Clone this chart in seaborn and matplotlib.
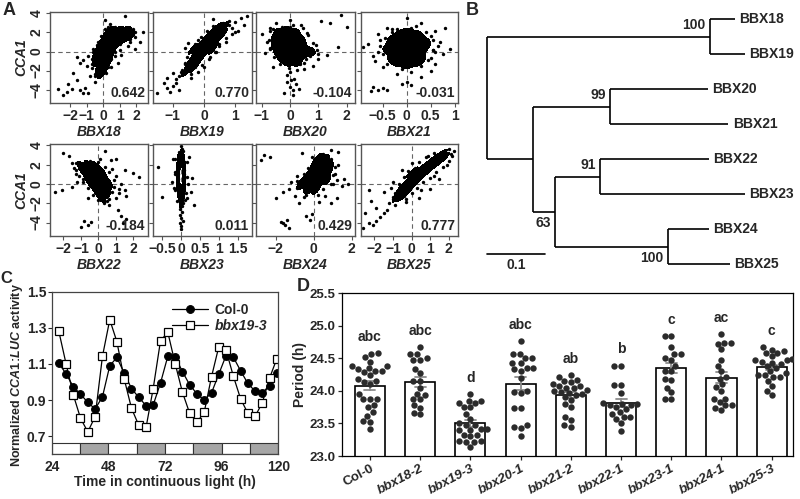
import matplotlib
matplotlib.use("Agg")
import numpy as np
import pandas as pd
import matplotlib.pyplot as plt
from matplotlib.colors import ListedColormap
import seaborn as sns

# ---------------- Panel A: CCA1 vs BBX expression ----------------
genes = ["BBX18", "BBX19", "BBX20", "BBX21", "BBX22", "BBX23", "BBX24", "BBX25"]
pearson_r = ["0.642", "0.770", "-0.104", "-0.031", "-0.184", "0.011", "0.429", "0.777"]

# dense part of each cloud (drawn as its highest-density region) and the sparse points around it
bbx18_dense_x = [-0.1, -0.2, 0.1, -0.4, 0.0, 0.3, -0.4, 0.0, 0.4, -0.2, 0.2, 0.6, 0.0, 0.4, 0.8, 0.2, 0.6, 1.0,
                 1.4, 1.7, 0.4, 0.9, 1.3, 1.2]
bbx18_dense_y = [-2.3, -1.7, -1.6, -1.0, -1.0, -0.9, -0.3, -0.3, -0.2, 0.4, 0.4, 0.5, 1.0, 1.1, 1.1, 1.7, 1.7, 1.7,
                 1.8, 1.7, 2.1, 2.1, 2.0, 1.4]
bbx18_x = [-2.7, -2.4, -2.1, -1.9, -1.6, -1.4, -1.1, -0.9, -2.2, -1.2, -1.6, -1.2, -0.9, -1.4, -0.8, -1.0, -0.7,
           -1.8, 1.3, 0.4, 0.7, 1.9, 1.5, 2.2, 1.1, -0.5, 1.8, 0.9, 1.0, 2.4, 0.1, -0.3, 1.6, 0.7, -0.6, -0.7,
           0.5, 1.9, -0.5, 0.3,
           -0.7, -0.6, -0.4, -0.1, 0.1, 0.7, 1.2, 1.9, 1.6, 1.0, 0.7, 0.5, 0.3, 0.2, -0.4, -0.5]
bbx18_y = [-3.9, -4.6, -3.4, -3.9, -3.0, -4.0, -3.8, -4.3, -4.2, -4.4, -0.6, -0.9, -0.5, -1.2, -2.6, -1.5, -0.8,
           -2.2, 3.7, 2.9, 2.6, 0.3, 0.6, 1.0, -0.4, -3.2, 2.4, -1.2, 0.2, 2.0, 3.3, 1.0, 1.0, -0.5, 0.3, -1.7,
           -1.6, 2.1, -2.4, 2.6,
           -1.3, 0.0, 0.7, 1.6, 2.4, 2.4, 2.4, 1.5, 1.3, 0.8, 0.0, -0.8, -1.6, -2.2, -2.0, -2.6]

bbx19_dense_x = [-0.55, -0.45, -0.3, -0.4, -0.2, -0.3, -0.1, -0.2, 0.05, -0.1, 0.15, 0.0, 0.25, 0.1, 0.35, 0.25,
                 0.5, 0.45, 0.65, -0.35, 0.3, 0.6]
bbx19_dense_y = [-2.0, -1.5, -1.6, -1.0, -1.0, -0.5, -0.5, 0.0, 0.0, 0.5, 0.5, 1.0, 1.0, 1.5, 1.5, 2.0,
                 2.0, 2.5, 2.6, 0.3, 0.3, 1.8]
bbx19_x = [-1.5, -1.2, -1.1, -1.0, -0.9, -0.8, -1.3, -0.8, -1.0, -0.7, 0.8, 1.0, 1.2, 1.3, 0.9, 1.4, -0.4,
           0.4, 0.7, -0.6, 1.1, -1.2, 0.3, -0.7, -0.6, 0.2, 0.9, -0.5, 0.6, 0.0, -0.9, 1.0, 0.5, -0.2,
           -0.75, -0.6, -0.55, -0.4, -0.3, -0.1, 0.1, 0.3, 0.8, 0.7, 0.5, 0.35, 0.15, -0.05, -0.2, -0.4]
bbx19_y = [-4.3, -3.8, -4.2, -3.6, -3.3, -4.0, -3.3, -2.6, -2.2, -1.9, 3.2, 3.1, 3.5, 2.8, 2.5, 3.7, -2.8,
           0.0, 1.0, 0.4, 2.2, -2.8, 3.4, -2.4, -1.2, -0.6, 1.8, 0.9, 3.0, -1.6, -2.9, 2.0, 0.6, 1.2,
           -2.1, -1.3, -0.6, 0.0, 0.8, 1.5, 2.2, 2.7, 2.8, 1.4, 0.8, -0.1, -0.8, -1.4, -2.1, -2.4]

bbx20_dense_x = [-0.4, -0.1, 0.2, -0.5, -0.2, 0.1, 0.4, -0.5, -0.2, 0.1, 0.4, -0.4, -0.1, 0.2, 0.5, 0.75,
                 -0.3, 0.0, 0.3, -0.1, 0.2]
bbx20_dense_y = [2.0, 2.2, 2.0, 1.3, 1.4, 1.3, 1.2, 0.6, 0.6, 0.6, 0.5, 0.0, 0.0, 0.0, -0.1, 0.0,
                 -0.6, -0.6, -0.6, -1.1, -1.1]
bbx20_x = [-0.1, 0.0, 0.1, 0.2, -0.2, 0.1, 0.3, -0.1, 0.0, 0.15, 0.05, -0.05, 0.25, -0.9, -1.0, -0.7, -0.5,
           0.0, 0.4, 1.1, 1.4, 1.8, 2.0, 1.7, 0.9, 1.0, 0.8, 0.5, -0.6, 1.3, -0.8, -0.7, 0.6, 0.7, -0.6, 0.1, 0.5,
           -0.7, -0.75, -0.7, -0.55, -0.35, 0.35, 0.55, 0.95, 0.8, 0.65, 0.45, 0.0, -0.3, 1.0]
bbx20_y = [-3.2, -3.7, -4.0, -3.4, -4.3, -4.6, -3.9, -2.5, -2.1, -2.9, -3.0, -1.7, -1.9, -0.2, 1.8, 2.5, 3.0,
           3.3, 2.8, 3.2, 3.0, 3.8, 2.6, 0.5, 0.7, -0.8, -1.5, -1.8, -1.6, -0.4, 1.0, 0.4, 1.9, -0.5, 2.4, 2.8, -1.2,
           2.2, 1.2, 0.3, -0.6, -1.3, -1.3, -0.8, 0.2, 0.9, 1.7, 2.5, 2.6, 2.6, -0.3]

bbx21_dense_x = [-0.4, -0.3, -0.3, 0.0, 0.0, 0.0, 0.0, 0.0, 0.3, 0.3, 0.3, 0.4, -0.15, 0.2, -0.2, 0.2,
                 -0.15, 0.15, -0.15, 0.15]
bbx21_dense_y = [0.3, 1.2, -0.6, 2.0, 1.2, 0.3, -0.6, -1.4, 1.2, 0.3, -0.6, 0.8, 1.7, 1.8, -1.1, -1.1,
                 0.7, 0.7, -0.2, -0.2]
bbx21_x = [-0.8, -0.7, -0.6, -0.4, 0.0, 0.3, 0.6, 0.7, 0.75, 0.6, -0.5, -0.7, -0.6, -0.5, -0.75, -0.4, 0.0,
           0.1, -0.1, 0.3, -0.2, 0.5, 0.9, -0.9, 0.8, -0.6, 0.55, -0.55, 0.5, 0.2, -0.3, 0.45, -0.65, 0.65, 0.1,
           -0.55, -0.5, -0.45, -0.3, 0.1, 0.4, 0.55, 0.55, 0.5, 0.3, -0.1, -0.4, -0.2, 0.6]
bbx21_y = [0.8, -0.5, 1.8, 2.5, 3.5, 3.0, 2.2, 1.0, -0.3, -1.3, -1.6, -3.7, -4.0, -3.8, -4.1, -4.0, -3.2,
           -3.5, -3.4, -2.7, -2.4, -2.0, 0.3, 0.5, 2.5, 0.0, 0.2, 1.2, 1.6, 2.7, 2.4, -0.9, -1.0, 0.6, -2.1,
           0.6, -0.3, 1.4, 2.1, 2.5, 2.0, 1.2, 0.2, -0.7, -1.5, -1.8, -1.3, 2.4, -0.1]

bbx22_dense_x = [-1.0, -0.6, -0.2, -0.9, -0.5, -0.1, 0.2, -0.6, -0.2, 0.2, -0.5, -0.1, 0.3, 0.6, -0.2, 0.2,
                 0.5, 0.0, 0.4, 0.2]
bbx22_dense_y = [1.9, 2.0, 1.9, 1.4, 1.4, 1.4, 1.3, 0.8, 0.8, 0.8, 0.2, 0.2, 0.2, 0.1, -0.4, -0.4,
                 -0.5, -1.0, -1.0, -1.5]
bbx22_x = [-2.0, -1.7, -2.5, -2.1, -1.5, -1.2, -1.5, 0.4, 0.7, 1.0, 1.5, 2.0, 2.3, 1.0, 1.2, 1.6, 1.0, 0.3,
           0.6, -0.6, -0.8, -0.4, -0.6, -1.0, 1.3, 1.6, 1.4, 1.1, -1.3, 0.9, 0.8, -0.9, 1.3, -1.4, 0.6, 0.1,
           -1.3, -1.3, -1.1, -0.9, -0.6, -0.3, 0.0, 0.5, 0.8, 0.9, 0.6, 0.4, 0.0, -0.5, 1.2, 1.5]
bbx22_y = [3.2, 2.9, -0.8, -0.6, -0.3, 0.2, 2.2, 3.4, 2.5, 2.6, 1.4, 1.1, 0.7, 0.8, -0.5, -1.2, -1.5, -2.0,
           -2.2, -1.5, -3.8, -3.9, -4.3, -4.5, -3.3, -3.6, -4.0, -2.7, 1.0, -0.3, 1.6, 0.5, 0.0, 1.7, -1.6, 2.6,
           2.2, 1.5, 0.8, 0.2, -0.4, -1.1, -1.7, -1.8, -0.8, 0.4, 1.2, 1.8, 2.3, 2.4, -0.9, -0.6]

bbx23_dense_x = [0.0, -0.06, 0.06, -0.06, 0.06, -0.08, 0.08, -0.08, 0.08, -0.08, 0.08, -0.08, 0.08, -0.06,
                 0.06, -0.05, 0.05, 0.0, 0.0]
bbx23_dense_y = [3.0, 2.5, 2.5, 2.0, 2.0, 1.5, 1.5, 1.0, 1.0, 0.5, 0.5, 0.0, 0.0, -0.5,
                 -0.5, -1.0, -1.0, -1.5, -2.0]
bbx23_x = [0.02, -0.02, 0.03, -0.03, 0.0, 0.04, -0.04, 0.01, 0.0, 0.02, -0.6, -0.5, 0.35, 0.3, 0.25, -0.25,
           0.2, -0.2, 0.15, -0.15, 0.18, -0.18, 0.0, 0.05,
           -0.15, 0.15, -0.15, 0.16, -0.15, 0.14, -0.1, 0.1, 0.05, -0.05]
bbx23_y = [-2.3, -2.6, -2.9, -3.2, -3.5, -3.8, -4.1, -4.4, -4.7, 3.6, 1.8, -1.3, -2.2, 0.6, -0.8, 0.2,
           2.8, 2.6, -1.5, 1.2, 0.0, -0.4, 3.9, -2.0,
           2.6, 2.3, 1.0, 0.7, -0.6, -0.9, -1.8, -1.7, 3.4, 3.3]

bbx24_dense_x = [0.3, 0.6, 0.1, 0.5, 0.8, 0.0, 0.4, 0.8, -0.2, 0.2, 0.6, -0.5, -0.1, 0.3, 0.7, -0.7, -0.3,
                 0.1, -0.3, 0.1]
bbx24_dense_y = [2.7, 2.6, 2.2, 2.2, 2.0, 1.6, 1.6, 1.5, 1.0, 1.0, 1.0, 0.4, 0.4, 0.4, 0.4, -0.1, -0.1,
                 -0.1, -0.6, -0.6]
bbx24_x = [-2.6, -2.3, -2.8, -2.0, -1.6, -1.3, -1.0, -0.8, -1.7, -1.5, -1.4, -1.3, -1.6, -0.4, -0.2, -0.1,
           0.3, 0.9, 1.2, 1.0, 1.6, 1.3, 0.9, -0.6, 1.5, -1.2, 1.1, -0.9, 0.6, 1.3, -0.5, 0.5, 1.8,
           -0.1, 0.5, 0.9, 1.1, 1.0, 0.9, 0.5, 0.2, -0.4, -0.9, -0.9, -0.5, -0.3, 1.2]
bbx24_y = [3.0, 2.8, 2.5, -1.5, -0.8, -0.5, -1.2, -2.0, -3.9, -4.3, -3.7, -4.6, -4.0, -3.3, -3.7, -3.1,
           -1.9, -2.0, -1.5, 0.0, 0.5, 3.3, 3.5, 3.2, -0.2, 0.2, 1.0, 0.8, -1.2, 2.0, -1.4, 3.0, 0.0,
           2.8, 3.1, 2.6, 1.8, 0.9, 0.0, -0.5, -1.1, -1.1, -0.4, 0.3, 1.0, 1.7, 0.4]

bbx25_dense_x = [-0.7, -0.4, -0.6, -0.2, -0.4, 0.0, -0.1, 0.3, 0.2, 0.6, 0.4, 0.8, 0.7, 1.1, 1.0, 1.4, 1.3,
                 1.7, 1.6, 0.0]
bbx25_dense_y = [-1.3, -1.2, -0.7, -0.6, -0.1, -0.1, 0.4, 0.4, 0.9, 0.9, 1.4, 1.3, 1.8, 1.8, 2.3, 2.2, 2.7,
                 2.6, 3.0, 1.2]
bbx25_x = [-2.6, -2.3, -2.1, -1.9, -1.7, -1.5, -1.9, -2.2, -1.2, -1.0, -1.5, -2.3, -1.0, -0.5, 0.0, 1.6,
           2.0, 2.2, 1.9, 1.5, 1.0, 0.4, -2.5, 2.3, -1.3, -0.9, 0.5, 1.2, -0.3, 2.1, -1.1, 0.9,
           -1.0, -0.9, -0.7, -0.4, -0.2, 0.2, 0.4, 0.8, 1.2, 1.9, 2.0, 1.7, 1.3, 1.0, 0.6, 0.3, 0.0, -0.3]
bbx25_y = [-4.6, -4.0, -4.3, -3.8, -3.4, -3.0, -2.5, -1.8, -2.0, -1.3, -0.8, -0.6, 0.2, 1.5, 2.2, 3.2,
           3.6, 2.9, 2.0, 0.5, -0.5, -1.5, -3.0, 3.4, -2.7, -2.2, -0.6, 0.8, -1.9, 3.1, -0.4, 2.9,
           -1.6, -0.9, 0.0, 0.7, 1.3, 1.7, 2.3, 2.8, 3.2, 3.2, 2.4, 1.8, 1.2, 0.6, 0.2, -0.4, -0.9, -1.6]

dense_x = [bbx18_dense_x, bbx19_dense_x, bbx20_dense_x, bbx21_dense_x,
           bbx22_dense_x, bbx23_dense_x, bbx24_dense_x, bbx25_dense_x]
dense_y = [bbx18_dense_y, bbx19_dense_y, bbx20_dense_y, bbx21_dense_y,
           bbx22_dense_y, bbx23_dense_y, bbx24_dense_y, bbx25_dense_y]
scatter_x = [bbx18_x, bbx19_x, bbx20_x, bbx21_x, bbx22_x, bbx23_x, bbx24_x, bbx25_x]
scatter_y = [bbx18_y, bbx19_y, bbx20_y, bbx21_y, bbx22_y, bbx23_y, bbx24_y, bbx25_y]

scatter_xlim = [(-3.2, 2.7), (-1.64, 1.55), (-1.2, 2.29), (-0.95, 1.07),
                (-2.77, 2.83), (-0.74, 1.87), (-3.04, 2.17), (-2.72, 2.5)]
scatter_xticks = [[-2, -1, 0, 1, 2], [-1, 0, 1], [-1, 0, 1, 2], [-0.5, 0, 0.5, 1],
                  [-2, -1, 0, 1, 2], [-0.5, 0, 0.5, 1, 1.5], [-2, 0, 2], [-2, -1, 0, 1, 2]]

# ---------------- Panel B: phylogenetic tree ----------------
leaf_names = ["BBX18", "BBX19", "BBX20", "BBX21", "BBX22", "BBX23", "BBX24", "BBX25"]
leaf_lengths = [0.043, 0.061, 0.169, 0.204, 0.188, 0.251, 0.071, 0.108]
node_names = ["n1819", "n2021", "n2223", "n2425", "n2225", "n2025", "root"]
node_children = [["BBX18", "BBX19"], ["BBX20", "BBX21"], ["BBX22", "BBX23"], ["BBX24", "BBX25"],
                 ["n2223", "n2425"], ["n2021", "n2225"], ["n1819", "n2025"]]
node_lengths = [0.386, 0.134, 0.078, 0.195, 0.038, 0.080, 0.0]
node_support = [100, 99, 91, 100, 63, None, None]

# ---------------- Panel C: CCA1:LUC rhythms ----------------
hours = [27.0, 30.1, 33.2, 36.2, 39.3, 42.4, 45.5, 48.6, 51.6, 54.7, 57.8, 60.9, 64.0, 67.0, 70.1, 73.2,
         76.3, 79.4, 82.4, 85.5, 88.6, 91.7, 94.8, 97.8, 100.9, 104.0, 107.1, 110.2, 113.2, 116.3, 119.4]
col0_luc = [1.105, 1.045, 0.973, 0.933, 0.887, 0.851, 0.918, 1.090, 1.136, 1.050, 0.964, 0.915, 0.869, 0.873,
            0.995, 1.143, 1.141, 1.057, 0.986, 0.935, 0.901, 0.940, 1.044, 1.145, 1.139, 1.063, 0.992, 0.949,
            0.942, 0.978, 1.049]
bbx19_luc = [1.282, 1.100, 0.927, 0.800, 0.724, 0.809, 1.142, 1.345, 1.224, 1.018, 0.855, 0.760, 0.751, 0.964,
             1.229, 1.275, 1.102, 0.943, 0.829, 0.777, 0.832, 1.029, 1.196, 1.180, 1.035, 0.908, 0.827, 0.811,
             0.885, 1.022, 1.130]
light_start = [24, 36, 48, 60, 72, 84, 96, 108]
light_state = ["subjective day", "subjective night"] * 4

# ---------------- Panel D: free-running period ----------------
genotypes = ["Col-0", "bbx18-2", "bbx19-3", "bbx20-1", "bbx21-2", "bbx22-1", "bbx23-1", "bbx24-1", "bbx25-3"]
period_col0 = [24.56, 24.52, 24.58, 24.35, 24.31, 24.38, 24.33, 24.38, 24.31, 24.19, 24.13, 24.15, 24.10, 23.87,
               23.88, 23.87, 23.78, 23.75, 23.95, 23.68, 23.62, 23.54, 23.53, 23.41, 24.25, 24.29, 24.45]
period_bbx18 = [24.67, 24.56, 24.57, 24.48, 24.48, 24.50, 24.33, 24.27, 24.15, 24.16, 24.05, 23.94, 23.96,
                23.87, 23.88, 23.78, 23.74, 23.64, 23.66]
period_bbx19 = [23.95, 23.85, 23.85, 23.82, 23.82, 23.75, 23.75, 23.64, 23.57, 23.50, 23.47, 23.40, 23.40,
                23.47, 23.41, 23.41, 23.30, 23.33, 23.33, 23.23, 23.23, 23.22, 23.21, 23.14]
period_bbx20 = [24.76, 24.57, 24.56, 24.50, 24.50, 24.43, 24.43, 24.35, 24.34, 24.35, 24.31, 24.20, 24.00,
                23.98, 23.97, 23.74, 23.74, 23.47, 23.45, 23.43, 23.31]
period_bbx21 = [24.24, 24.21, 24.17, 24.15, 24.13, 24.10, 24.08, 24.07, 24.05, 24.04, 24.02, 24.00, 23.98,
                23.97, 23.95, 23.93, 23.90, 23.86, 23.80, 23.75, 23.60, 23.55, 23.47, 23.44]
period_bbx22 = [24.38, 24.39, 24.09, 24.09, 23.97, 23.81, 23.80, 23.79, 23.80, 23.79, 23.76, 23.68, 23.72,
                23.60, 23.60, 23.65, 23.51, 23.57, 23.39]
period_bbx23 = [24.84, 24.84, 24.68, 24.57, 24.57, 24.48, 24.50, 24.38, 24.30, 24.30, 24.19, 24.17, 24.05,
                23.98, 23.88, 23.88]
period_bbx24 = [24.87, 24.74, 24.72, 24.73, 24.64, 24.47, 24.38, 24.30, 24.22, 24.19, 24.10, 24.06, 24.00,
                23.88, 23.88, 23.83, 23.78, 23.78, 23.74, 23.70]
period_bbx25 = [24.67, 24.63, 24.62, 24.58, 24.58, 24.53, 24.49, 24.48, 24.47, 24.45, 24.43, 24.42, 24.38,
                24.35, 24.30, 24.27, 24.25, 24.24, 24.22, 24.21, 24.15, 24.07, 24.00, 23.93]
period_groups = [period_col0, period_bbx18, period_bbx19, period_bbx20, period_bbx21,
                 period_bbx22, period_bbx23, period_bbx24, period_bbx25]
sig_letters = ["abc", "abc", "d", "abc", "ab", "b", "c", "ac", "c"]

W, H = 800, 499


def px_axes(fig, x0, y0, x1, y1):
    """Add an axes given pixel box (top-left origin)."""
    return fig.add_axes([x0 / W, 1 - y1 / H, (x1 - x0) / W, (y1 - y0) / H])


def fmt_num(v):
    return f"{v:g}".replace("-", "\u2212")


def plot_correlations(fig):
    cols = [(50, 148), (153, 252), (256, 355), (361, 458)]
    rows = [(12, 103), (144, 236)]
    frame = "#555555"
    black = ListedColormap(["black", "black"])
    for i, gene in enumerate(genes):
        r, c = divmod(i, 4)
        ax = px_axes(fig, cols[c][0], rows[r][0], cols[c][1], rows[r][1])
        core = pd.DataFrame({"expr": dense_x[i], "cca1": dense_y[i]})
        pts = pd.DataFrame({"expr": scatter_x[i] + dense_x[i], "cca1": scatter_y[i] + dense_y[i]})
        ax.axhline(0, color="#666666", ls=(0, (4, 3)), lw=0.8, zorder=0)
        ax.axvline(0, color="#666666", ls=(0, (4, 3)), lw=0.8, zorder=0)
        sns.kdeplot(data=core, x="expr", y="cca1", ax=ax, fill=True, levels=[0.1, 1],
                    cmap=black, bw_adjust=0.6)
        sns.scatterplot(data=pts, x="expr", y="cca1", ax=ax, s=6, color="black",
                        linewidth=0, zorder=2)
        ax.set_xlim(scatter_xlim[i])
        ax.set_ylim(-5.4, 4.15)
        ax.set_xticks(scatter_xticks[i])
        ax.set_xticklabels([fmt_num(v) for v in scatter_xticks[i]])
        ax.set_yticks([-4, -2, 0, 2, 4])
        if c == 0:
            ax.set_yticklabels([fmt_num(v) for v in [-4, -2, 0, 2, 4]], rotation=90, va="center")
            ax.set_ylabel("CCA1", fontstyle="italic", fontsize=10, labelpad=1)
        else:
            ax.set_yticklabels([])
            ax.set_ylabel("")
        ax.set_xlabel(gene, fontstyle="italic", fontsize=10, labelpad=1)
        ax.tick_params(length=3, width=0.8, color=frame, labelsize=10, pad=1.5)
        for sp in ax.spines.values():
            sp.set_visible(True)
            sp.set_color(frame)
            sp.set_linewidth(1.0)
        ax.text(0.97, 0.03, pearson_r[i], transform=ax.transAxes, ha="right", va="bottom",
                fontsize=10, fontweight="bold")


def plot_tree(fig):
    ax = px_axes(fig, 460, 0, 800, 280)
    unit = 0.1 / 57.7
    ax.set_xlim(-(487 - 460) * unit, (800 - 487) * unit)
    ax.set_ylim((280 - 19) / 35, -19 / 35)
    ax.axis("off")

    children = dict(zip(node_names, node_children))
    lengths = dict(zip(leaf_names, leaf_lengths))
    lengths.update(zip(node_names, node_lengths))
    support = dict(zip(node_names, node_support))
    ypos = {name: i for i, name in enumerate(leaf_names)}
    xpos = {}
    lw = 1.2

    def layout(name, x_parent):
        x = x_parent + lengths[name]
        xpos[name] = x
        if name in children:
            ys = [layout(ch, x) for ch in children[name]]
            ypos[name] = sum(ys) / len(ys)
            ax.plot([x, x], [ys[0], ys[-1]], color="black", lw=lw, solid_capstyle="butt")
        ax.plot([x_parent, x], [ypos[name], ypos[name]], color="black", lw=lw, solid_capstyle="butt")
        return ypos[name]

    layout("root", 0.0)
    for name in leaf_names:
        ax.text(xpos[name] + 0.008, ypos[name], name, va="center", ha="left", fontsize=10)
    for name in node_names:
        if support[name] is None:
            continue
        below = name in ("n2225", "n2425")
        ax.text(xpos[name] - 0.007, ypos[name] + (0.13 if below else -0.12), str(support[name]),
                ha="right", va="top" if below else "bottom", fontsize=10)
    # scale bar
    ax.plot([0, 0.1], [(254 - 19) / 35] * 2, color="black", lw=lw)
    ax.text(0.05, (258 - 19) / 35, "0.1", ha="center", va="top", fontsize=10)


def plot_rhythm(fig):
    ax = px_axes(fig, 51.7, 291.7, 278.3, 454.3)
    sns.lineplot(x=hours, y=col0_luc, ax=ax, color="black", lw=0.9, marker="o", markersize=5.6,
                 markerfacecolor="black", markeredgecolor="black", label="Col-0")
    sns.lineplot(x=hours, y=bbx19_luc, ax=ax, color="black", lw=0.9, marker="s", markersize=5.2,
                 markerfacecolor="white", markeredgecolor="black", markeredgewidth=0.9, label="bbx19-3")
    colors = ["white" if s == "subjective day" else "#a6a6a6" for s in light_state]
    ax.bar(light_start, 0.06, bottom=0.6, width=12, align="edge", color=colors,
           edgecolor="#333333", linewidth=0.8)
    ax.set_xlim(24, 120)
    ax.set_ylim(0.6, 1.5)
    ax.set_xticks([24, 48, 72, 96, 120])
    ax.set_yticks([0.7, 0.9, 1.1, 1.3, 1.5])
    ax.set_yticklabels(["0.7", "0.9", "1.1", "1.3", "1.5"])
    ax.tick_params(axis="x", length=0, labelsize=10, pad=4)
    ax.tick_params(axis="y", length=3, width=0.8, labelsize=10, pad=1)
    ax.set_xlabel("Time in continuous light (h)", fontsize=10, labelpad=1)
    ax.set_ylabel(r"Normalized $\mathit{CCA1\!:\!LUC}$ activity", fontsize=9)
    ax.yaxis.set_label_coords(-0.118, 0.49)
    for sp in ax.spines.values():
        sp.set_visible(True)
        sp.set_color("#444444")
        sp.set_linewidth(0.9)
    leg = ax.legend(loc="upper right", frameon=False, fontsize=10, handlelength=2.6,
                    handletextpad=0.5, labelspacing=0.15, borderaxespad=0.4)
    leg.get_texts()[1].set_fontstyle("italic")


def plot_period(fig):
    ax = px_axes(fig, 342.3, 293.3, 793.3, 456)
    df = pd.DataFrame({
        "genotype": [g for g, vals in zip(genotypes, period_groups) for _ in vals],
        "period": [v for vals in period_groups for v in vals],
    })
    sns.barplot(data=df, x="genotype", y="period", order=genotypes, ax=ax, errorbar="se",
                color="white", edgecolor="black", linewidth=1.2, width=0.6, capsize=0.22,
                err_kws={"color": "#8c8c8c", "linewidth": 1.3})
    sns.swarmplot(data=df, x="genotype", y="period", order=genotypes, ax=ax, color="#2b2b2b",
                  size=4.6, zorder=3)
    for i, vals in enumerate(period_groups):
        ax.text(i, max(vals) + 0.25, sig_letters[i], ha="center", va="center", fontsize=10)
    ax.set_xlim(-0.55, 8.43)
    ax.set_ylim(23.0, 25.5)
    ax.set_yticks([23.0, 23.5, 24.0, 24.5, 25.0, 25.5])
    ax.set_yticklabels(["23.0", "23.5", "24.0", "24.5", "25.0", "25.5"])
    ax.set_xlabel("")
    ax.set_ylabel("Period (h)", fontsize=10, labelpad=2)
    ax.tick_params(axis="both", length=3, width=0.9, labelsize=9.5, pad=2)
    ax.set_xticks(range(len(genotypes)))
    ax.set_xticklabels(genotypes, rotation=28, ha="right", rotation_mode="anchor")
    for lab in ax.get_xticklabels():
        if lab.get_text() != "Col-0":
            lab.set_fontstyle("italic")
    for sp in ax.spines.values():
        sp.set_visible(True)
        sp.set_color("black")
        sp.set_linewidth(0.9)


if __name__ == "__main__":
    sns.set_style("ticks")
    plt.rcParams["font.family"] = ["Liberation Sans", "DejaVu Sans"]
    plt.rcParams["font.weight"] = "bold"
    plt.rcParams["axes.labelweight"] = "bold"
    plt.rcParams["mathtext.fontset"] = "custom"
    plt.rcParams["mathtext.it"] = "Liberation Sans:italic:bold"
    plt.rcParams["mathtext.rm"] = "Liberation Sans:bold"

    fig = plt.figure(figsize=(W / 100, H / 100), dpi=100)
    plot_correlations(fig)
    plot_tree(fig)
    plot_rhythm(fig)
    plot_period(fig)

    for label, (x, y, size) in zip("ABCD", [(3, 2, 13), (466, 2, 13), (0, 271, 12), (297, 278, 13)]):
        fig.text(x / W, 1 - y / H, label, fontsize=size, fontweight="bold", ha="left", va="top")

    fig.savefig("out.png", dpi=100)
